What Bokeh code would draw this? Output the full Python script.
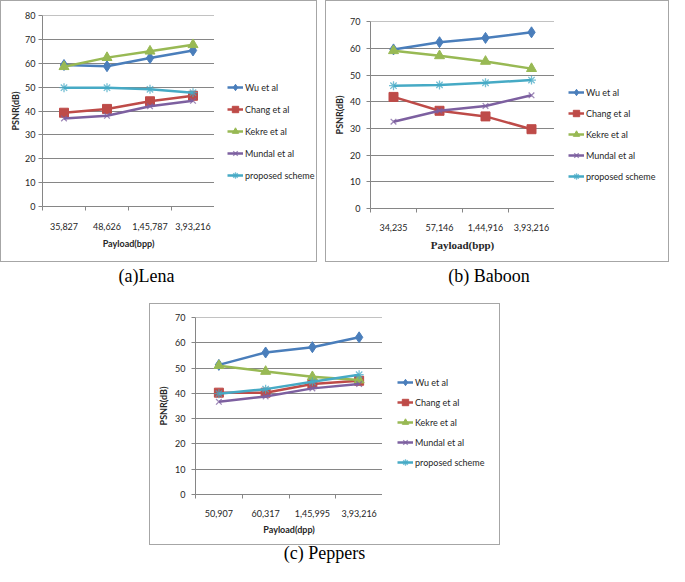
import numpy as np
from bokeh.plotting import figure
from bokeh.models import FixedTicker, Legend, LegendItem, Range1d, Div, Spacer
from bokeh.layouts import row, column
from bokeh.embed import file_html
from bokeh.resources import INLINE

series_names = ["Wu et al", "Chang et al", "Kekre et al", "Mundal et al", "proposed scheme"]
series_colors = ["#4A7EBB", "#BE4B48", "#98B954", "#7D60A0", "#46AAC5"]
series_markers = ["diamond", "square", "triangle", "x", "asterisk"]
marker_sizes = [11, 9, 10, 8, 9]

lena_payload = ["35,827", "48,626", "1,45,787", "3,93,216"]
lena_wu = [59.3, 58.8, 62.2, 65.4]
lena_chang = [39.3, 40.9, 44.1, 46.4]
lena_kekre = [58.6, 62.4, 65.1, 67.8]
lena_mundal = [36.9, 38.0, 42.0, 44.3]
lena_proposed = [49.8, 49.8, 49.1, 47.7]

baboon_payload = ["34,235", "57,146", "1,44,916", "3,93,216"]
baboon_wu = [59.6, 62.3, 63.9, 66.0]
baboon_chang = [41.8, 36.6, 34.5, 29.7]
baboon_kekre = [59.1, 57.2, 55.1, 52.4]
baboon_mundal = [32.5, 36.6, 38.4, 42.4]
baboon_proposed = [46.0, 46.3, 47.1, 48.1]

peppers_payload = ["50,907", "60,317", "1,45,995", "3,93,216"]
peppers_wu = [51.3, 56.2, 58.3, 62.2]
peppers_chang = [40.3, 40.3, 43.7, 45.0]
peppers_kekre = [51.0, 48.7, 46.6, 45.3]
peppers_mundal = [36.7, 38.8, 42.0, 43.7]
peppers_proposed = [39.9, 41.7, 44.6, 47.4]

FONT = "Lato"
AXIS_GRAY = "#868686"
TEXT = "#262626"


def add_series(p, xs, vals, color, marker, msize):
    ln = p.line(xs, vals, line_color=color, line_width=2.5)
    if marker in ("x", "asterisk"):
        mk = p.scatter(xs, vals, marker=marker, size=msize, line_color=color,
                       line_width=1.3, line_alpha=0.75)
    else:
        mk = p.scatter(xs, vals, marker=marker, size=msize, fill_color=color,
                       line_color=color)
    return ln, mk


def make_panel(payload, series, ymax, height, left, frame_w, right, top, bottom,
               xlabel, xlabel_font, xlabel_size, tick_standoff, xlabel_standoff,
               y_standoff, ylabel_standoff, legend_dx, legend_top, legend_spacing):
    n = len(payload)
    xs = [i + 0.5 for i in range(n)]
    fh = height - top - bottom
    p = figure(frame_width=frame_w, frame_height=fh,
               x_range=Range1d(0, n), y_range=Range1d(0, ymax + 0.05),
               output_backend="svg", toolbar_location=None,
               min_border_left=left, min_border_right=0,
               min_border_top=top, min_border_bottom=bottom)
    p.outline_line_color = None

    p.xaxis.ticker = FixedTicker(ticks=xs, minor_ticks=list(range(n + 1)))
    p.xaxis.major_label_overrides = {x: lab for x, lab in zip(xs, payload)}
    p.xaxis.major_tick_line_color = None
    p.xaxis.major_tick_out = 0
    p.xaxis.major_tick_in = 0
    p.xaxis.minor_tick_out = 4
    p.xaxis.minor_tick_in = 0
    p.xaxis.minor_tick_line_color = AXIS_GRAY
    p.xaxis.axis_line_color = AXIS_GRAY
    p.xaxis.major_label_text_font = FONT
    p.xaxis.major_label_text_font_size = "9px"
    p.xaxis.major_label_text_color = TEXT
    p.xaxis.major_label_standoff = tick_standoff
    p.xaxis.axis_label = xlabel
    p.xaxis.axis_label_text_font = xlabel_font
    p.xaxis.axis_label_text_font_size = xlabel_size
    p.xaxis.axis_label_text_font_style = "bold"
    p.xaxis.axis_label_text_color = TEXT
    p.xaxis.axis_label_standoff = xlabel_standoff
    p.xgrid.visible = False

    yt = list(range(0, ymax + 1, 10))
    p.yaxis.ticker = FixedTicker(ticks=yt)
    p.ygrid.ticker = FixedTicker(ticks=yt)
    p.ygrid.grid_line_color = AXIS_GRAY
    p.yaxis.minor_tick_line_color = None
    p.yaxis.major_tick_out = 4
    p.yaxis.major_tick_in = 0
    p.yaxis.major_tick_line_color = AXIS_GRAY
    p.yaxis.axis_line_color = AXIS_GRAY
    p.yaxis.major_label_text_font = FONT
    p.yaxis.major_label_text_font_size = "9px"
    p.yaxis.major_label_text_color = TEXT
    p.yaxis.major_label_standoff = y_standoff
    p.yaxis.axis_label = "PSNR(dB)"
    p.yaxis.axis_label_text_font = FONT
    p.yaxis.axis_label_text_font_size = "9px"
    p.yaxis.axis_label_text_font_style = "bold"
    p.yaxis.axis_label_text_color = TEXT
    p.yaxis.axis_label_standoff = ylabel_standoff

    for color, marker, msize, vals in zip(series_colors, series_markers, marker_sizes, series):
        add_series(p, xs, vals, color, marker, msize)

    # legend in its own canvas to the right of the plot (its frame is aligned
    # with the plot frame by the row); the series data lie outside its ranges
    lf = figure(width=right, height=height, x_range=Range1d(-10, -9), y_range=Range1d(-10, -9),
                x_axis_type=None, y_axis_type=None, output_backend="svg",
                toolbar_location=None, min_border_left=0, min_border_right=0,
                min_border_top=0, min_border_bottom=0)
    lf.outline_line_color = None
    lf.grid.visible = False
    items = []
    for name, color, marker, msize, vals in zip(series_names, series_colors,
                                                 series_markers, marker_sizes, series):
        ln, mk = add_series(lf, xs, vals, color, marker, msize)
        items.append(LegendItem(label=name, renderers=[ln, mk]))
    leg_h = 5 * 16 + 4 * legend_spacing
    legend = Legend(items=items, location=(legend_dx, top + fh - legend_top - leg_h),
                    orientation="vertical",
                    glyph_width=16, glyph_height=16, label_height=16,
                    label_standoff=2, spacing=legend_spacing, padding=0, margin=0,
                    border_line_color=None, background_fill_alpha=0,
                    label_text_font=FONT, label_text_font_size="9px",
                    label_text_color=TEXT)
    lf.add_layout(legend)
    return row(p, lf, styles={"border": "1px solid #a6a6a6"})


def caption(text, width, height, shift, pad_top):
    html = ("<div style=\"position:relative; left:%dpx; top:%dpx; width:%dpx; "
            "text-align:center; font-family:'Liberation Serif'; font-size:18px; "
            "color:#000; line-height:20px;\">%s</div>" % (shift, pad_top, width, text))
    return Div(text=html, width=width, height=height, margin=0)


pA = make_panel(payload=lena_payload,
                series=[lena_wu, lena_chang, lena_kekre, lena_mundal, lena_proposed],
                ymax=80, height=260, left=41, frame_w=172, right=102, top=14, bottom=55,
                xlabel="Payload(bpp)", xlabel_font=FONT, xlabel_size="9px",
                tick_standoff=12, xlabel_standoff=5, y_standoff=3, ylabel_standoff=1,
                legend_dx=13, legend_top=78, legend_spacing=6)

pB = make_panel(payload=baboon_payload,
                series=[baboon_wu, baboon_chang, baboon_kekre, baboon_mundal, baboon_proposed],
                ymax=70, height=260, left=44, frame_w=184, right=114, top=20, bottom=53,
                xlabel="Payload(bpp)", xlabel_font="Liberation Serif", xlabel_size="11px",
                tick_standoff=11, xlabel_standoff=5, y_standoff=6, ylabel_standoff=2,
                legend_dx=14, legend_top=83, legend_spacing=5)

pC = make_panel(payload=peppers_payload,
                series=[peppers_wu, peppers_chang, peppers_kekre, peppers_mundal, peppers_proposed],
                ymax=70, height=240, left=45, frame_w=187, right=117, top=13, bottom=50,
                xlabel="Payload(dpp)", xlabel_font=FONT, xlabel_size="9px",
                tick_standoff=11, xlabel_standoff=4, y_standoff=6, ylabel_standoff=3,
                legend_dx=15, legend_top=70, legend_spacing=4)

capA = caption("(a)Lena", 317, 41, -12, 4)
capB = caption("(b) Baboon", 344, 41, -8, 4)
capC = caption("(c) Peppers", 351, 21, 0, -2)

layout = column(
    row(column(pA, capA), Spacer(width=8, height=10), column(pB, capB)),
    row(Spacer(width=149, height=10), column(pC, capC)),
)

open("out.html", "w").write(file_html(layout, INLINE))
